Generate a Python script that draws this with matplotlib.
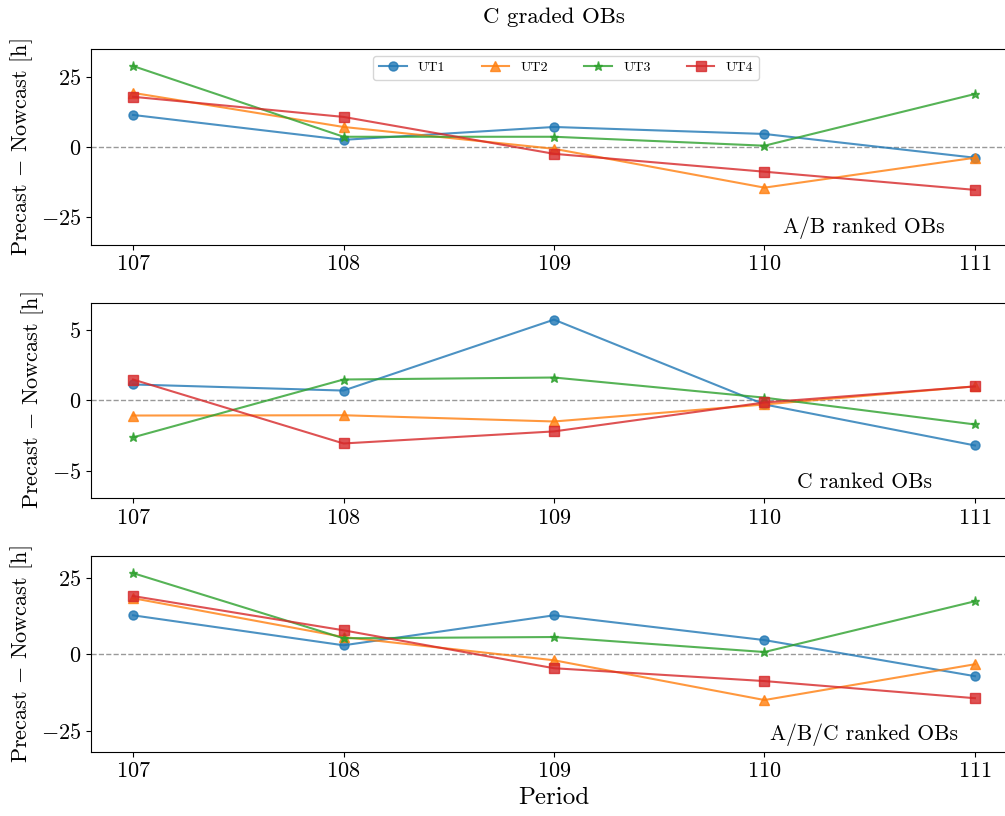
import matplotlib
matplotlib.use('Agg')
import matplotlib.pyplot as plt
import numpy as np

plt.rcParams['font.family'] = 'serif'
plt.rcParams['font.serif'] = ['cmr10']
plt.rcParams['mathtext.fontset'] = 'cm'
plt.rcParams['axes.formatter.use_mathtext'] = True
plt.rcParams['axes.unicode_minus'] = True

periods = [107, 108, 109, 110, 111]
names = ['UT1', 'UT2', 'UT3', 'UT4']
markers = ['o', '^', '*', 's']
colors = ['tab:blue', 'tab:orange', 'tab:green', 'tab:red']

# A/B ranked
ab_ut1 = [11.4, 2.5, 7.1, 4.6, -3.9]
ab_ut2 = [19.3, 7.1, -0.7, -14.6, -3.9]
ab_ut3 = [28.9, 3.6, 3.6, 0.4, 18.9]
ab_ut4 = [17.9, 10.7, -2.5, -8.9, -15.4]
# C ranked
c_ut1 = [1.13, 0.7, 5.7, -0.28, -3.17]
c_ut2 = [-1.06, -1.04, -1.48, -0.28, 1.0]
c_ut3 = [-2.6, 1.48, 1.62, 0.2, -1.69]
c_ut4 = [1.48, -3.03, -2.18, -0.14, 0.99]
# A/B/C ranked
abc_ut1 = [12.7, 2.9, 12.7, 4.6, -7.2]
abc_ut2 = [18.3, 5.6, -2.0, -15.0, -3.3]
abc_ut3 = [26.5, 5.2, 5.6, 0.7, 17.3]
abc_ut4 = [19.0, 7.8, -4.6, -8.8, -14.4]

panels = [
    ([ab_ut1, ab_ut2, ab_ut3, ab_ut4], 'A/B ranked OBs', 35, [-25, 0, 25]),
    ([c_ut1, c_ut2, c_ut3, c_ut4], 'C ranked OBs', 6.9, [-5, 0, 5]),
    ([abc_ut1, abc_ut2, abc_ut3, abc_ut4], 'A/B/C ranked OBs', 32, [-25, 0, 25]),
]

fig, axs = plt.subplots(3, 1, figsize=(10.05, 8.16), dpi=100)
fig.subplots_adjust(left=0.0905, right=1.012, top=0.94, bottom=0.0784, hspace=0.296)

for ax, (series, label, lim, yt) in zip(axs, panels):
    ax.axhline(0, color='gray', ls='--', lw=1, alpha=0.8)
    for vals, nm, mk, c in zip(series, names, markers, colors):
        ax.plot(periods, vals, marker=mk, color=c, label=nm, alpha=0.8, lw=1.5, ms=6.5)
    ax.set_xlim(106.8, 111.2)
    ax.set_ylim(-lim, lim)
    ax.set_yticks(yt)
    ax.set_xticks(periods)
    ax.tick_params(labelsize=16)
    ax.set_ylabel('Precast $-$ Nowcast [h]', fontsize=16)
    ax.text(0.835, 0.03, label, transform=ax.transAxes, ha='center', va='bottom', fontsize=15.5)

axs[0].legend(loc='upper center', bbox_to_anchor=(0.513, 1.0), ncol=4, fontsize=10,
              columnspacing=2.6)
axs[0].set_title('C graded OBs', fontsize=16.5, pad=19)
axs[2].set_xlabel('Period', fontsize=18)

plt.savefig('out.png', dpi=100)
